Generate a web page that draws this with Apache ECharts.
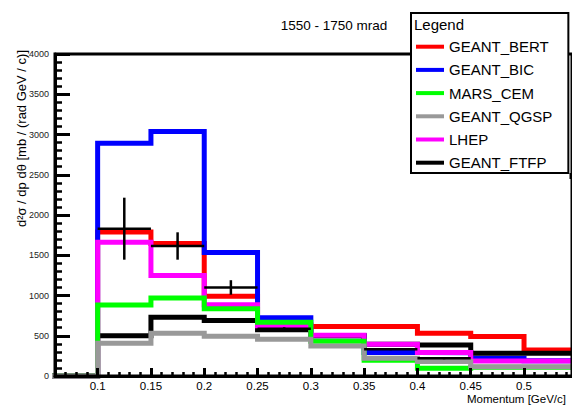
<!DOCTYPE html>
<html>
<head>
<meta charset="utf-8">
<script src="https://cdn.jsdelivr.net/npm/echarts@6/dist/echarts.min.js"></script>
<style>html,body{margin:0;padding:0;background:#fff}#c{width:572px;height:405px}</style>
</head>
<body>
<div id="c"></div>
<script>
// Bin edges (GeV/c); each value array gives one value per bin [edge_i, edge_i+1]
const binEdges = [0.05, 0.1, 0.15, 0.2, 0.25, 0.3, 0.35, 0.4, 0.45, 0.5, 0.55];
const geantBert = [0, 1790, 1645, 990, 635, 615, 615, 532, 490, 324];
const geantBic  = [0, 2890, 3036, 1535, 725, 500, 291, 290, 220, 190];
const marsCem   = [0, 881, 968, 835, 667, 432, 195, 95, 110, 110];
const geantQgsp = [0, 407, 532, 495, 455, 372, 222, 179, 116, 116];
const lhep      = [0, 1661, 1250, 885, 625, 505, 395, 291, 187, 187];
const geantFtfp = [0, 500, 730, 688, 575, 500, 395, 386, 282, 282];
// Measured data with errors (null = no point)
const dataValues = [null, 1830, 1615, 1100, 588, null, 332, 220, null, null];
const dataErrors = [null, 385, 170, 90, 18, null, 12, 12, null, null];

const seriesNames = ['GEANT_BERT', 'GEANT_BIC', 'MARS_CEM', 'GEANT_QGSP', 'LHEP', 'GEANT_FTFP'];
const titleText = '1550 - 1750 mrad';
const xTitle = 'Momentum [GeV/c]';
const yTitle = 'd\u00b2\u03c3 / dp d\u03b8 [mb / (rad GeV / c)]';

const FONT = '"Liberation Sans", Arial, Helvetica, sans-serif';

function stepData(vals) {
  return binEdges.map((e, i) => [e, vals[Math.min(i, vals.length - 1)]]);
}
function histSeries(name, vals, color, z) {
  return {
    name: name, type: 'line', step: 'end', data: stepData(vals),
    symbol: 'none', z: z, silent: true,
    lineStyle: { color: color, width: 5, join: 'miter', cap: 'butt' },
    itemStyle: { color: color },
    animation: false
  };
}
const measured = [];
for (let i = 0; i < dataValues.length; i++) {
  if (dataValues[i] != null) measured.push([binEdges[i], binEdges[i + 1], dataValues[i], dataErrors[i]]);
}

const chart = echarts.init(document.getElementById('c'), null, { renderer: 'svg' });
chart.setOption({
  animation: false,
  backgroundColor: '#fff',
  grid: { left: 55, top: 54, right: -4, bottom: 29, show: true, borderColor: '#000', borderWidth: 3, backgroundColor: 'transparent', z: 20 },
  xAxis: {
    type: 'value', min: 0.06, max: 0.545, splitNumber: 10, z: 20,
    axisLine: { show: true, onZero: false, lineStyle: { color: '#000', width: 3, opacity: 1 } },
    axisTick: { show: true, inside: true, length: 8, lineStyle: { color: '#000', width: 3, opacity: 1 } },
    minorTick: { show: true, splitNumber: 5, length: 4, lineStyle: { color: '#000', width: 2.5, opacity: 1 } },
    axisLabel: { showMinLabel: false, showMaxLabel: false, fontSize: 11.5, color: '#000', margin: 4, fontFamily: FONT },
    splitLine: { show: false }
  },
  yAxis: {
    type: 'value', min: 0, max: 4000, interval: 500, z: 20,
    axisLine: { show: true, lineStyle: { color: '#000', width: 3, opacity: 1 } },
    axisTick: { show: true, inside: true, length: 15, lineStyle: { color: '#000', width: 3, opacity: 1 } },
    minorTick: { show: true, splitNumber: 5, length: 7, lineStyle: { color: '#000', width: 2.5, opacity: 1 } },
    axisLabel: { fontSize: 9, color: '#222', margin: 6, fontFamily: FONT, formatter: function (v) { return String(v); } },
    splitLine: { show: false }
  },
  legend: {
    data: seriesNames, orient: 'vertical', left: 411, top: 13,
    icon: 'rect', itemWidth: 28, itemHeight: 4, itemGap: 7.2,
    padding: [25.7, 16, 2.3, 5],
    borderColor: '#000', borderWidth: 2, backgroundColor: '#fff',
    selectedMode: false, z: 30,
    textStyle: { fontSize: 15, color: '#000', fontFamily: FONT, lineHeight: 16 }
  },
  graphic: [
    { type: 'text', x: 334, y: 25, style: { text: titleText, fontSize: 13.5, fill: '#000', fontFamily: FONT, align: 'center', verticalAlign: 'middle' } },
    { type: 'text', x: 414, y: 24, z: 100, style: { text: 'Legend', fontSize: 15, fill: '#000', fontFamily: FONT, align: 'left', verticalAlign: 'middle' } },
    { type: 'text', x: 566, y: 399, style: { text: xTitle, fontSize: 11.5, fill: '#000', fontFamily: FONT, align: 'right', verticalAlign: 'middle' } },
    { type: 'text', x: 21, y: 50, rotation: Math.PI / 2, style: { text: yTitle, fontSize: 13, fill: '#000', fontFamily: FONT, align: 'right', verticalAlign: 'middle' } },
    { type: 'rect', shape: { x: 569.5, y: 173, width: 3, height: 6 }, style: { fill: '#000' } }
  ],
  series: [
    histSeries('GEANT_BERT', geantBert, '#ff0000', 2),
    histSeries('GEANT_BIC', geantBic, '#0000ff', 3),
    histSeries('GEANT_FTFP', geantFtfp, '#000000', 4),
    histSeries('LHEP', lhep, '#ff00ff', 5),
    histSeries('MARS_CEM', marsCem, '#00ff00', 6),
    histSeries('GEANT_QGSP', geantQgsp, '#999999', 7),
    {
      name: 'Data', type: 'custom', z: 8, data: measured, silent: true,
      encode: { x: [0, 1], y: [2] },
      renderItem: function (params, api) {
        const x0 = api.value(0), x1 = api.value(1), y = api.value(2), e = api.value(3);
        const a = api.coord([x0, y]), b = api.coord([x1, y]);
        const t = api.coord([(x0 + x1) / 2, y + e]), u = api.coord([(x0 + x1) / 2, y - e]);
        return { type: 'group', children: [
          { type: 'line', shape: { x1: a[0], y1: a[1], x2: b[0], y2: b[1] }, style: { stroke: '#000', lineWidth: 2.5 } },
          { type: 'line', shape: { x1: t[0], y1: t[1], x2: u[0], y2: u[1] }, style: { stroke: '#000', lineWidth: 2.5 } }
        ] };
      }
    }
  ]
});
</script>
</body>
</html>
